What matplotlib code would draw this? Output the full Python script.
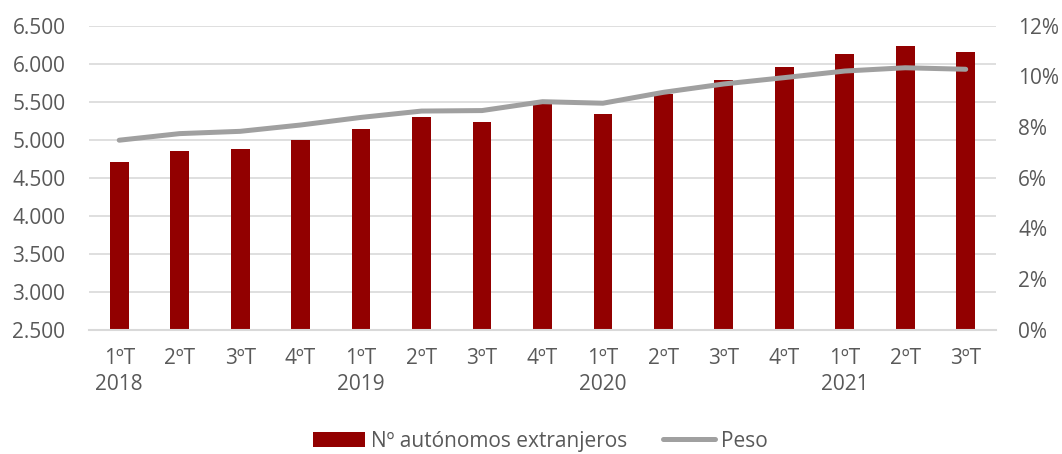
import matplotlib
matplotlib.use('Agg')
import matplotlib.pyplot as plt
from matplotlib.ticker import FuncFormatter
import numpy as np

quarters = ['1ºT', '2ºT', '3ºT', '4ºT'] * 4
quarters = quarters[:15]
years = ['2018', '2019', '2020', '2021']
autonomos = [4700, 4850, 4875, 5000, 5145, 5300, 5230, 5470,
             5340, 5600, 5790, 5955, 6125, 6230, 6150]
peso = [7.48, 7.74, 7.83, 8.08, 8.38, 8.63, 8.65, 9.0,
        8.94, 9.37, 9.70, 9.95, 10.21, 10.34, 10.28]

bar_color = '#920000'
line_color = '#a0a0a0'
text_color = '#595959'
grid_color = '#d9d9d9'

plt.rcParams['font.family'] = ['Open Sans', 'DejaVu Sans']
fs = 15

fig = plt.figure(figsize=(10.62, 4.54), dpi=100)
ax = fig.add_axes([0.0838, 0.2738, 0.854, 0.6696])
ax2 = ax.twinx()

x = np.arange(len(autonomos))
labels = []
for i, q in enumerate(quarters):
    if i % 4 == 0:
        labels.append(q + '\n' + years[i // 4])
    else:
        labels.append(q)

bars = ax.bar(x, autonomos, width=0.31, color=bar_color, zorder=2,
              label='Nº autónomos extranjeros')
ax.set_ylim(2500, 6500)
ax.set_yticks(np.arange(2500, 6501, 500))
ax.yaxis.set_major_formatter(FuncFormatter(lambda v, p: f'{int(v):,}'.replace(',', '.')))
ax.set_xlim(-0.5, len(autonomos) - 0.5)
ax.set_xticks(x)
ax.set_xticklabels(labels, ha='center', va='top', linespacing=1.35)
ax.grid(axis='y', color=grid_color, linewidth=1.2, zorder=0)
ax.set_axisbelow(True)
for s in ['top', 'right', 'left']:
    ax.spines[s].set_visible(False)
ax.spines['bottom'].set_color(grid_color)
ax.spines['bottom'].set_linewidth(1.5)
ax.tick_params(axis='both', length=0, labelsize=fs, colors=text_color)
ax.tick_params(axis='x', pad=13)
ax.tick_params(axis='y', pad=17)

line, = ax2.plot(x, peso, color=line_color, linewidth=3.6,
                 solid_capstyle='round', solid_joinstyle='round',
                 label='Peso', zorder=3)
ax2.set_ylim(0, 12)
ax2.set_yticks(np.arange(0, 13, 2))
ax2.yaxis.set_major_formatter(FuncFormatter(lambda v, p: f'{int(v)}%'))
for s in ax2.spines.values():
    s.set_visible(False)
ax2.tick_params(axis='y', length=0, labelsize=fs, colors=text_color, pad=16)

leg = fig.legend(handles=[bars, line], loc='center', bbox_to_anchor=(0.509, 0.028),
                 ncol=2, frameon=False, fontsize=fs, handlelength=2.5,
                 handleheight=0.7, handletextpad=0.3, columnspacing=1.7)
for t in leg.get_texts():
    t.set_color(text_color)

fig.savefig('out.png', dpi=100)
